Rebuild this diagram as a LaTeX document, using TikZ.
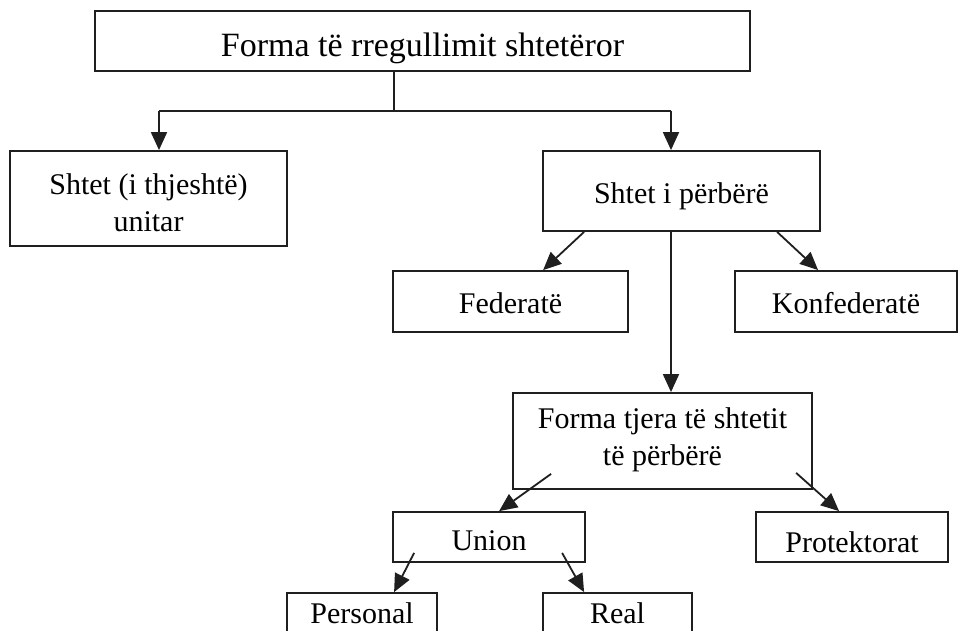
\documentclass[tikz,border=0pt]{standalone}
\usepackage{fontspec}
\setmainfont{Liberation Serif}
\usetikzlibrary{arrows.meta,calc}
\begin{document}
\begin{tikzpicture}[x=1pt,y=-1pt,
  box/.style={draw=black!88, line width=1.8pt, inner sep=0pt, align=center,
              font=\fontsize{30}{37}\selectfont},
  % lift of the node centre above the (last) baseline, times two
  lift/.style={text height=#1, text depth=0pt},
  link/.style={line width=1.8pt, draw=black!88},
  arr/.style={link, -{Triangle[length=18pt,width=16pt]}}]
\useasboundingbox (0,0) rectangle (961,630);

% boxes
\node[box, lift=31pt, minimum width=655pt, minimum height=60pt,
      font=\fontsize{34}{40}\selectfont] (root) at (422.5,41) {Forma të rregullimit shtetëror};
\node[box, lift=65pt, minimum width=277pt, minimum height=95pt] (unit) at (148.5,198.5) {Shtet (i thjeshtë)\\unitar};
\node[box, lift=24pt, minimum width=277pt, minimum height=80pt] (comp) at (681.5,191) {Shtet i përbërë};
\node[box, lift=23pt, minimum width=235pt, minimum height=61pt] (fed) at (510.5,301.5) {Federatë};
\node[box, lift=23pt, minimum width=222pt, minimum height=61pt] (conf) at (846,301.5) {Konfederatë};
\node[box, lift=48pt, minimum width=299pt, minimum height=96pt] (other) at (662.5,441) {Forma tjera të shtetit\\të përbërë};
\node[box, lift=26pt, minimum width=192pt, minimum height=50pt] (union) at (489,537) {Union};
\node[box, lift=30pt, minimum width=192pt, minimum height=50pt] (prot) at (852,537) {Protektorat};
\node[box, lift=17pt, minimum width=150pt, minimum height=43pt] (pers) at (362,614.5) {Personal};
\node[box, lift=17pt, minimum width=149pt, minimum height=43pt] (real) at (617.5,614.5) {Real};

% branching under the root
\coordinate (split) at (394,110.7);
\coordinate (jl) at (159,110.7);
\coordinate (jr) at (671,110.7);
\draw[link] (root.south -| split) -- (split);
\draw[link] (jl) -- (jr);
\draw[arr] (jl) -- (jl |- unit.north);
\draw[arr] (jr) -- (jr |- comp.north);

% compound state
\draw[arr] ($(comp.south west)+(42,0)$) -- ($(fed.north west)+(151,0)$);
\draw[arr] ($(comp.south west)+(235,0)$) -- ($(conf.north west)+(84,0)$);
\draw[arr] (jr |- comp.south) -- (jr |- other.north);

% other forms
\draw[arr] ($(other.south west)+(39,-16)$) -- ($(union.north west)+(107,0)$);
\draw[arr] ($(other.south west)+(284,-17)$) -- ($(prot.north west)+(84,0)$);

% union
\draw[arr] ($(union.south west)+(22,-10)$) -- ($(pers.north west)+(108,0)$);
\draw[arr] ($(union.south west)+(170,-10)$) -- ($(real.north west)+(42,0)$);
\end{tikzpicture}
\end{document}
